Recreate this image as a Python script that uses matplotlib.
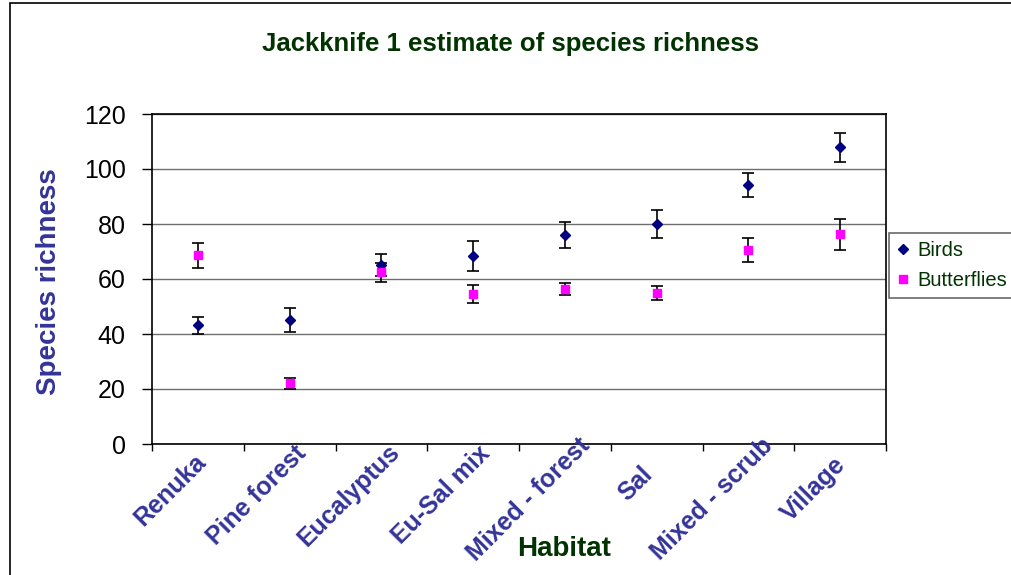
import matplotlib
matplotlib.use("Agg")
import matplotlib.pyplot as plt
from matplotlib.patches import Rectangle
from matplotlib.transforms import ScaledTranslation
import numpy as np

habitats = ["Renuka", "Pine forest", "Eucalyptus", "Eu-Sal mix",
            "Mixed - forest", "Sal", "Mixed - scrub", "Village"]
birds = [43.1, 45.0, 65.0, 68.4, 75.9, 80.0, 94.2, 107.9]
birds_err = [3.0, 4.3, 4.0, 5.5, 4.8, 5.0, 4.3, 5.3]
butterflies = [68.6, 22.1, 62.5, 54.4, 56.5, 54.9, 70.6, 76.2]
butterflies_err = [4.5, 2.0, 3.5, 3.3, 2.2, 2.5, 4.4, 5.6]
yticks = [0, 20, 40, 60, 80, 100, 120]

plt.rcParams['font.family'] = ['Liberation Sans', 'DejaVu Sans']

W, H = 1012, 575
fig = plt.figure(figsize=(W / 100, H / 100), dpi=100)
fig.patches.append(Rectangle((10 / W, -0.1), 1.2, (H - 3) / H + 0.1,
                             transform=fig.transFigure, fill=False,
                             edgecolor='black', linewidth=1.2))
ax = fig.add_axes([152 / W, (H - 444) / H, (886 - 152) / W, (444 - 114) / H])

x = np.arange(len(habitats)) + 0.5
ax.errorbar(x, birds, yerr=birds_err, fmt='D', color='#000080', markersize=5.2,
            ecolor='black', elinewidth=1.2, capsize=4, capthick=1.2,
            label='Birds', zorder=3)
ax.errorbar(x, butterflies, yerr=butterflies_err, fmt='s', color='#FF00FF',
            markersize=6.2, ecolor='black', elinewidth=1.2, capsize=4,
            capthick=1.2, label='Butterflies', zorder=3)

ax.set_xlim(0, len(habitats))
ax.set_ylim(0, 120)
ax.set_yticks(yticks)
ax.set_yticklabels([str(v) for v in yticks], fontsize=18)
ax.yaxis.grid(True, color='#6e6e6e', linewidth=1.0)
ax.set_axisbelow(True)
ax.tick_params(axis='y', length=7, width=1, pad=12)

ax.set_xticks(np.arange(len(habitats) + 1))
ax.set_xticklabels([])
ax.tick_params(axis='x', length=5, width=1)

for s in ax.spines.values():
    s.set_color('black')
    s.set_linewidth(1.2)

# category labels, rotated 45 degrees
renderer = fig.canvas.get_renderer()
for xi, lab in zip(x, habitats):
    t = ax.text(xi, 0, lab, transform=ax.get_xaxis_transform(), fontsize=18,
                fontweight='bold', color='#333399', ha='center', va='center',
                rotation=0, rotation_mode='anchor')
    L = t.get_window_extent(renderer).width
    t.set_rotation(45)
    d = 0.18 * L * 0.7071
    dx = -16 - d
    dy = -35 - d
    t.set_transform(ax.get_xaxis_transform() +
                    ScaledTranslation(dx / 100, dy / 100, fig.dpi_scale_trans))

fig.text(49 / W, 1 - 282 / H, 'Species richness', fontsize=20,
         fontweight='bold', color='#333399', rotation=90, ha='center',
         va='center')
fig.text(564 / W, 1 - 549 / H, 'Habitat', fontsize=20, fontweight='bold',
         color='#003300', ha='center', va='center')
fig.text(511 / W, 1 - 44 / H, 'Jackknife 1 estimate of species richness',
         fontsize=18.5, fontweight='bold', color='#003300', ha='center',
         va='center')

handles, labels = ax.get_legend_handles_labels()
handles = [h[0] for h in handles]
leg = fig.legend(handles, labels, loc='upper left',
                 bbox_to_anchor=(889 / W, 1 - 233 / H),
                 frameon=True, fancybox=False, edgecolor='#444444',
                 fontsize=14.5, handlelength=0.6, handletextpad=0.4,
                 borderpad=0.4, labelspacing=0.55, borderaxespad=0)
leg.get_frame().set_linewidth(1.2)
for t in leg.get_texts():
    t.set_color('#003300')

fig.savefig('out.png', dpi=100)
